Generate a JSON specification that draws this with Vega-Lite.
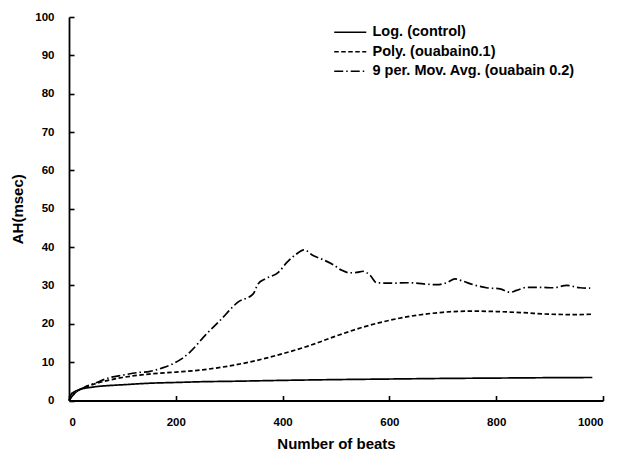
{
  "$schema": "https://vega.github.io/schema/vega-lite/v6.json",
  "width": 534,
  "height": 383.5,
  "autosize": {"type": "none"},
  "padding": {"left": 69, "top": 17, "right": 21, "bottom": 50.5},
  "background": "white",
  "config": {
    "view": {"stroke": null},
    "font": "Liberation Sans",
    "axis": {
      "grid": false,
      "domainColor": "black",
      "domainWidth": 1.8,
      "ticks": true,
      "tickColor": "black",
      "tickWidth": 1.6,
      "labelFont": "Liberation Sans",
      "labelFontWeight": "bold",
      "labelFontSize": 11.5,
      "labelColor": "black",
      "titleFont": "Liberation Sans",
      "titleFontWeight": "bold",
      "titleFontSize": 15,
      "titleColor": "black"
    },
    "legend": {
      "orient": "none",
      "legendX": 274,
      "legendY": 8,
      "padding": 0,
      "symbolType": "M-2.67,0H2.67",
      "symbolSize": 144,
      "symbolStrokeWidth": 1.6,
      "symbolStrokeColor": "black",
      "symbolFillColor": "transparent",
      "labelFont": "Liberation Sans",
      "labelFontWeight": "bold",
      "labelFontSize": 14.5,
      "labelColor": "black",
      "labelOffset": 15,
      "labelLimit": 400,
      "rowPadding": 4.5
    }
  },
  "data": {
    "values": [
      {"b": 1, "v": 0.3, "s": "Log. (control)"},
      {"b": 2, "v": 0.9, "s": "Log. (control)"},
      {"b": 3, "v": 1.3, "s": "Log. (control)"},
      {"b": 5, "v": 1.8, "s": "Log. (control)"},
      {"b": 8, "v": 2.1, "s": "Log. (control)"},
      {"b": 10, "v": 2.3, "s": "Log. (control)"},
      {"b": 15, "v": 2.6, "s": "Log. (control)"},
      {"b": 20, "v": 2.9, "s": "Log. (control)"},
      {"b": 30, "v": 3.2, "s": "Log. (control)"},
      {"b": 40, "v": 3.4, "s": "Log. (control)"},
      {"b": 50, "v": 3.6, "s": "Log. (control)"},
      {"b": 75, "v": 3.9, "s": "Log. (control)"},
      {"b": 100, "v": 4.1, "s": "Log. (control)"},
      {"b": 150, "v": 4.5, "s": "Log. (control)"},
      {"b": 200, "v": 4.7, "s": "Log. (control)"},
      {"b": 250, "v": 4.9, "s": "Log. (control)"},
      {"b": 300, "v": 5.0, "s": "Log. (control)"},
      {"b": 400, "v": 5.25, "s": "Log. (control)"},
      {"b": 500, "v": 5.45, "s": "Log. (control)"},
      {"b": 600, "v": 5.6, "s": "Log. (control)"},
      {"b": 700, "v": 5.75, "s": "Log. (control)"},
      {"b": 800, "v": 5.85, "s": "Log. (control)"},
      {"b": 900, "v": 5.95, "s": "Log. (control)"},
      {"b": 980, "v": 6.0, "s": "Log. (control)"},

      {"b": 0, "v": 0, "s": "Poly. (ouabain0.1)"},
      {"b": 5, "v": 1.0, "s": "Poly. (ouabain0.1)"},
      {"b": 10, "v": 1.8, "s": "Poly. (ouabain0.1)"},
      {"b": 20, "v": 2.8, "s": "Poly. (ouabain0.1)"},
      {"b": 30, "v": 3.5, "s": "Poly. (ouabain0.1)"},
      {"b": 50, "v": 4.4, "s": "Poly. (ouabain0.1)"},
      {"b": 75, "v": 5.3, "s": "Poly. (ouabain0.1)"},
      {"b": 100, "v": 6.0, "s": "Poly. (ouabain0.1)"},
      {"b": 150, "v": 6.9, "s": "Poly. (ouabain0.1)"},
      {"b": 200, "v": 7.4, "s": "Poly. (ouabain0.1)"},
      {"b": 250, "v": 8.0, "s": "Poly. (ouabain0.1)"},
      {"b": 300, "v": 9.0, "s": "Poly. (ouabain0.1)"},
      {"b": 350, "v": 10.4, "s": "Poly. (ouabain0.1)"},
      {"b": 400, "v": 12.2, "s": "Poly. (ouabain0.1)"},
      {"b": 450, "v": 14.3, "s": "Poly. (ouabain0.1)"},
      {"b": 500, "v": 16.8, "s": "Poly. (ouabain0.1)"},
      {"b": 550, "v": 19.1, "s": "Poly. (ouabain0.1)"},
      {"b": 600, "v": 20.9, "s": "Poly. (ouabain0.1)"},
      {"b": 650, "v": 22.2, "s": "Poly. (ouabain0.1)"},
      {"b": 700, "v": 23.0, "s": "Poly. (ouabain0.1)"},
      {"b": 750, "v": 23.3, "s": "Poly. (ouabain0.1)"},
      {"b": 800, "v": 23.2, "s": "Poly. (ouabain0.1)"},
      {"b": 850, "v": 22.9, "s": "Poly. (ouabain0.1)"},
      {"b": 900, "v": 22.5, "s": "Poly. (ouabain0.1)"},
      {"b": 950, "v": 22.4, "s": "Poly. (ouabain0.1)"},
      {"b": 980, "v": 22.5, "s": "Poly. (ouabain0.1)"},

      {"b": 0, "v": 0, "s": "9 per. Mov. Avg. (ouabain 0.2)"},
      {"b": 5, "v": 1.0, "s": "9 per. Mov. Avg. (ouabain 0.2)"},
      {"b": 10, "v": 1.8, "s": "9 per. Mov. Avg. (ouabain 0.2)"},
      {"b": 20, "v": 2.8, "s": "9 per. Mov. Avg. (ouabain 0.2)"},
      {"b": 30, "v": 3.5, "s": "9 per. Mov. Avg. (ouabain 0.2)"},
      {"b": 50, "v": 4.6, "s": "9 per. Mov. Avg. (ouabain 0.2)"},
      {"b": 77, "v": 6.0, "s": "9 per. Mov. Avg. (ouabain 0.2)"},
      {"b": 100, "v": 6.6, "s": "9 per. Mov. Avg. (ouabain 0.2)"},
      {"b": 130, "v": 7.3, "s": "9 per. Mov. Avg. (ouabain 0.2)"},
      {"b": 152, "v": 7.6, "s": "9 per. Mov. Avg. (ouabain 0.2)"},
      {"b": 175, "v": 8.5, "s": "9 per. Mov. Avg. (ouabain 0.2)"},
      {"b": 195, "v": 9.6, "s": "9 per. Mov. Avg. (ouabain 0.2)"},
      {"b": 210, "v": 10.8, "s": "9 per. Mov. Avg. (ouabain 0.2)"},
      {"b": 227, "v": 12.7, "s": "9 per. Mov. Avg. (ouabain 0.2)"},
      {"b": 255, "v": 17.0, "s": "9 per. Mov. Avg. (ouabain 0.2)"},
      {"b": 283, "v": 20.9, "s": "9 per. Mov. Avg. (ouabain 0.2)"},
      {"b": 317, "v": 25.7, "s": "9 per. Mov. Avg. (ouabain 0.2)"},
      {"b": 345, "v": 27.8, "s": "9 per. Mov. Avg. (ouabain 0.2)"},
      {"b": 354, "v": 30.4, "s": "9 per. Mov. Avg. (ouabain 0.2)"},
      {"b": 367, "v": 31.7, "s": "9 per. Mov. Avg. (ouabain 0.2)"},
      {"b": 392, "v": 33.4, "s": "9 per. Mov. Avg. (ouabain 0.2)"},
      {"b": 408, "v": 36.0, "s": "9 per. Mov. Avg. (ouabain 0.2)"},
      {"b": 426, "v": 38.2, "s": "9 per. Mov. Avg. (ouabain 0.2)"},
      {"b": 440, "v": 39.3, "s": "9 per. Mov. Avg. (ouabain 0.2)"},
      {"b": 457, "v": 37.8, "s": "9 per. Mov. Avg. (ouabain 0.2)"},
      {"b": 476, "v": 36.7, "s": "9 per. Mov. Avg. (ouabain 0.2)"},
      {"b": 495, "v": 35.4, "s": "9 per. Mov. Avg. (ouabain 0.2)"},
      {"b": 510, "v": 34.0, "s": "9 per. Mov. Avg. (ouabain 0.2)"},
      {"b": 525, "v": 33.3, "s": "9 per. Mov. Avg. (ouabain 0.2)"},
      {"b": 539, "v": 33.4, "s": "9 per. Mov. Avg. (ouabain 0.2)"},
      {"b": 551, "v": 33.7, "s": "9 per. Mov. Avg. (ouabain 0.2)"},
      {"b": 564, "v": 32.6, "s": "9 per. Mov. Avg. (ouabain 0.2)"},
      {"b": 576, "v": 30.7, "s": "9 per. Mov. Avg. (ouabain 0.2)"},
      {"b": 601, "v": 30.6, "s": "9 per. Mov. Avg. (ouabain 0.2)"},
      {"b": 639, "v": 30.7, "s": "9 per. Mov. Avg. (ouabain 0.2)"},
      {"b": 664, "v": 30.4, "s": "9 per. Mov. Avg. (ouabain 0.2)"},
      {"b": 689, "v": 30.2, "s": "9 per. Mov. Avg. (ouabain 0.2)"},
      {"b": 707, "v": 30.7, "s": "9 per. Mov. Avg. (ouabain 0.2)"},
      {"b": 723, "v": 31.7, "s": "9 per. Mov. Avg. (ouabain 0.2)"},
      {"b": 738, "v": 31.1, "s": "9 per. Mov. Avg. (ouabain 0.2)"},
      {"b": 757, "v": 30.2, "s": "9 per. Mov. Avg. (ouabain 0.2)"},
      {"b": 782, "v": 29.4, "s": "9 per. Mov. Avg. (ouabain 0.2)"},
      {"b": 807, "v": 29.1, "s": "9 per. Mov. Avg. (ouabain 0.2)"},
      {"b": 826, "v": 28.2, "s": "9 per. Mov. Avg. (ouabain 0.2)"},
      {"b": 838, "v": 28.7, "s": "9 per. Mov. Avg. (ouabain 0.2)"},
      {"b": 857, "v": 29.5, "s": "9 per. Mov. Avg. (ouabain 0.2)"},
      {"b": 882, "v": 29.5, "s": "9 per. Mov. Avg. (ouabain 0.2)"},
      {"b": 907, "v": 29.4, "s": "9 per. Mov. Avg. (ouabain 0.2)"},
      {"b": 932, "v": 30.0, "s": "9 per. Mov. Avg. (ouabain 0.2)"},
      {"b": 957, "v": 29.4, "s": "9 per. Mov. Avg. (ouabain 0.2)"},
      {"b": 976, "v": 29.3, "s": "9 per. Mov. Avg. (ouabain 0.2)"}
    ]
  },
  "mark": {"type": "line", "color": "black", "strokeWidth": 1.7, "interpolate": "monotone"},
  "encoding": {
    "x": {
      "field": "b",
      "type": "quantitative",
      "scale": {"domain": [0, 1000], "nice": false},
      "axis": {
        "title": "Number of beats",
        "values": [0, 200, 400, 600, 800, 1000],
        "format": "d",
        "tickSize": -5,
        "labelPadding": 21,
        "titleY": 42.5,
        "titleBaseline": "middle"
      }
    },
    "y": {
      "field": "v",
      "type": "quantitative",
      "scale": {"domain": [0, 100], "nice": false},
      "axis": {
        "title": "AH(msec)",
        "values": [0, 10, 20, 30, 40, 50, 60, 70, 80, 90, 100],
        "format": "d",
        "tickSize": -5,
        "labelPadding": 20,
        "titleX": -52,
        "titleY": 191.75,
        "titleAngle": -90,
        "titleAlign": "center",
        "titleBaseline": "middle"
      }
    },
    "strokeDash": {
      "field": "s",
      "type": "nominal",
      "scale": {
        "domain": ["Log. (control)", "Poly. (ouabain0.1)", "9 per. Mov. Avg. (ouabain 0.2)"],
        "range": [[1, 0], [4.5, 2.5], [9, 3, 1.5, 3]]
      },
      "legend": {"title": null}
    }
  }
}
